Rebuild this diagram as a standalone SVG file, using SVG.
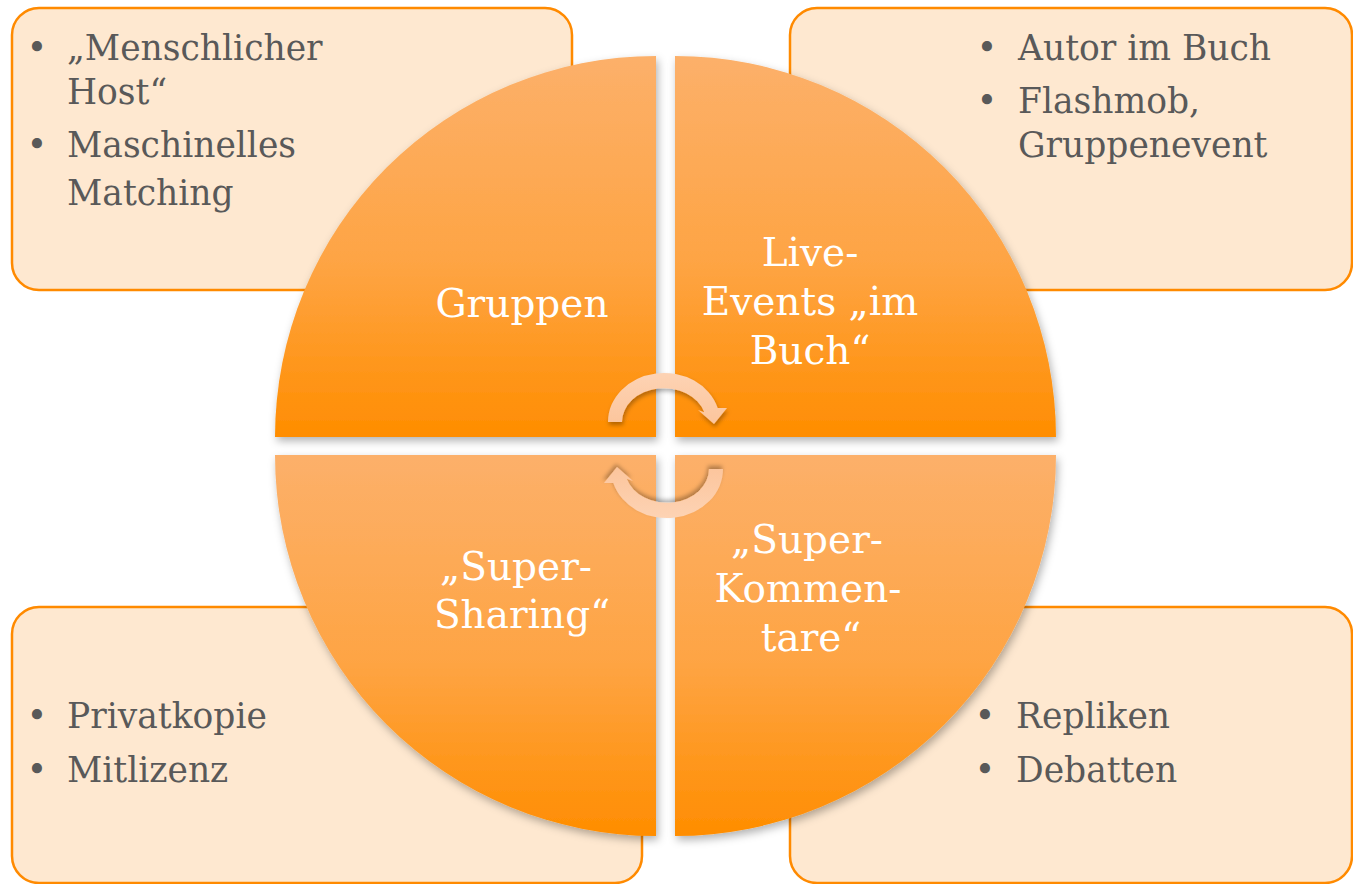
<svg xmlns="http://www.w3.org/2000/svg" width="1353" height="884" viewBox="0 0 1353 884">
<defs>
<linearGradient id="qg" x1="0" y1="0" x2="0" y2="1">
<stop offset="0" stop-color="#FCB06A"/>
<stop offset="0.55" stop-color="#FEA443"/>
<stop offset="1" stop-color="#FF8D00"/>
</linearGradient>
<linearGradient id="ag" x1="0" y1="0" x2="0" y2="1">
<stop offset="0" stop-color="#FDD3B4"/>
<stop offset="1" stop-color="#FCC59C"/>
</linearGradient>
<filter id="sh" x="-10%" y="-10%" width="125%" height="125%">
<feDropShadow dx="2" dy="4" stdDeviation="4" flood-color="#000" flood-opacity="0.3"/>
</filter>
<filter id="ash" x="-20%" y="-20%" width="140%" height="150%">
<feDropShadow dx="1" dy="3" stdDeviation="2" flood-color="#000" flood-opacity="0.3"/>
</filter>
</defs>
<style>
.box{fill:#FEE8D0;stroke:#FF8A00;stroke-width:2.5}
.bt{font-family:"DejaVu Serif","Liberation Serif",serif;font-size:34.5px;fill:#595959}
.bul{font-family:"DejaVu Serif","Liberation Serif",serif;font-size:34.5px;fill:#595959;text-anchor:middle}
.quad{fill:url(#qg);filter:url(#sh)}
.qt{font-family:"DejaVu Serif","Liberation Serif",serif;font-size:39px;fill:#FFFFFF;text-anchor:middle}
.arr{fill:url(#ag);filter:url(#ash)}
</style>
<g id="box-tl">
<rect class="box" x="12" y="8" width="560" height="282" rx="27"/>
<text class="bul" x="37" y="60">•</text><text class="bt" x="67" y="60">„Menschlicher</text>
<text class="bt" x="67" y="104">Host“</text>
<text class="bul" x="37" y="157">•</text><text class="bt" x="67" y="157">Maschinelles</text>
<text class="bt" x="67" y="205">Matching</text>
</g>
<g id="box-tr">
<rect class="box" x="790" y="8" width="562" height="282" rx="27"/>
<text class="bul" x="987" y="60">•</text><text class="bt" x="1018" y="60">Autor im Buch</text>
<text class="bul" x="987" y="113">•</text><text class="bt" x="1018" y="113">Flashmob,</text>
<text class="bt" x="1018" y="157">Gruppenevent</text>
</g>
<g id="box-bl">
<rect class="box" x="12" y="607" width="630" height="276" rx="27"/>
<text class="bul" x="37" y="728">•</text><text class="bt" x="67" y="728">Privatkopie</text>
<text class="bul" x="37" y="782">•</text><text class="bt" x="67" y="782">Mitlizenz</text>
</g>
<g id="box-br">
<rect class="box" x="790" y="607" width="562" height="276" rx="27"/>
<text class="bul" x="985" y="728">•</text><text class="bt" x="1016" y="728">Repliken</text>
<text class="bul" x="985" y="782">•</text><text class="bt" x="1016" y="782">Debatten</text>
</g>
<g id="q-gruppen">
<path class="quad" d="M656,437 L275,437 A381,381 0 0 1 656,56 Z"/>
<text class="qt" x="522" y="317">Gruppen</text>
</g>
<g id="q-live">
<path class="quad" d="M675,437 L675,56 A381,381 0 0 1 1056,437 Z"/>
<text class="qt" x="810" y="266">Live-</text>
<text class="qt" x="810" y="315">Events „im</text>
<text class="qt" x="810" y="364">Buch“</text>
</g>
<g id="q-sharing">
<path class="quad" d="M656,455 L656,836 A381,381 0 0 1 275,455 Z"/>
<text class="qt" x="516" y="580">„Super-</text>
<text class="qt" x="522" y="628">Sharing“</text>
</g>
<g id="q-kommentare">
<path class="quad" d="M675,455 L1056,455 A381,381 0 0 1 675,836 Z"/>
<text class="qt" x="807" y="553">„Super-</text>
<text class="qt" x="808" y="602">Kommen-</text>
<text class="qt" x="811" y="651">tare“</text>
</g>
<g id="connectors">
<path class="arr" d="M608,422 A56,49 0 0 1 717.7,408 L727,408 L714,424 L698,410 L704.2,412.3 A42,34 0 0 0 622,422 Z"/>
<path class="arr" transform="rotate(180 665.5 445.5)" d="M608,422 A56,49 0 0 1 717.7,408 L727,408 L714,424 L698,410 L704.2,412.3 A42,34 0 0 0 622,422 Z"/>
</g>
</svg>
